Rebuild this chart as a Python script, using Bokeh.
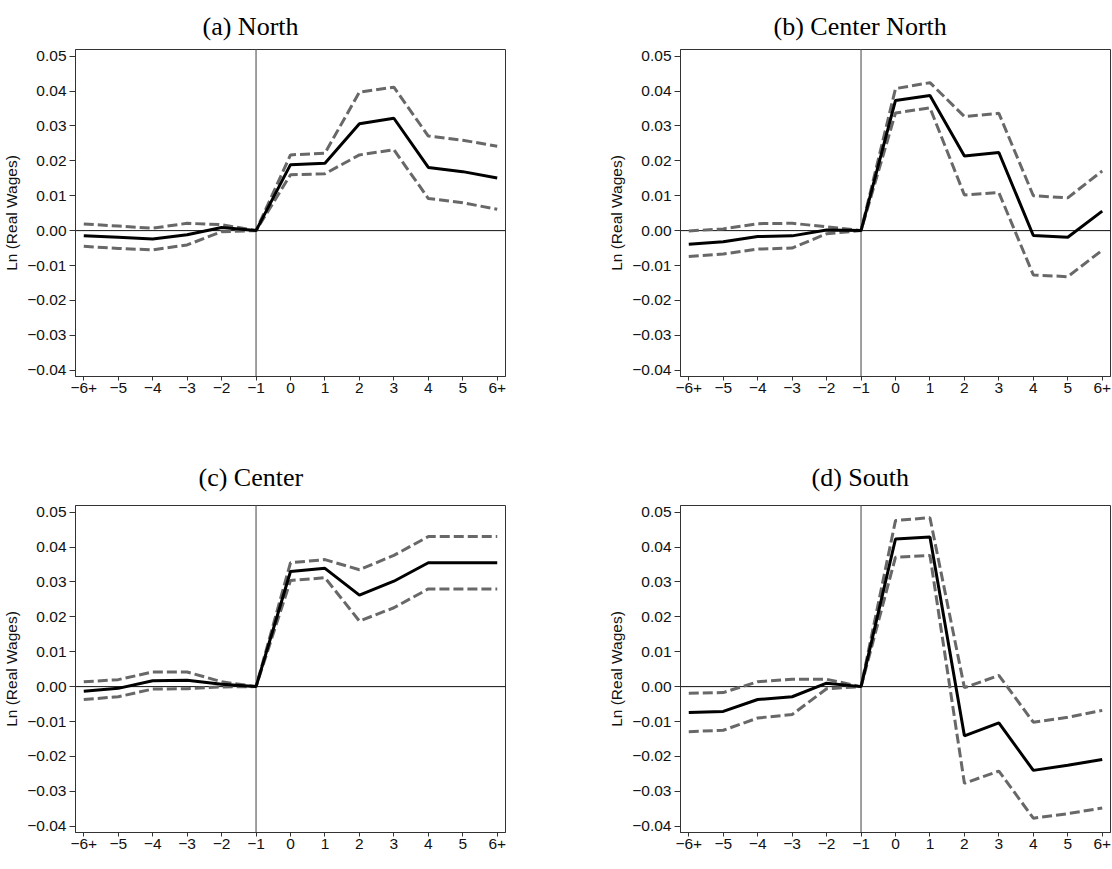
from bokeh.plotting import figure
from bokeh.layouts import column, row
from bokeh.models import Span, Title, FixedTicker, Range1d
from bokeh.embed import file_html
from bokeh.resources import INLINE

# ---------------- data ----------------
periods = [-6, -5, -4, -3, -2, -1, 0, 1, 2, 3, 4, 5, 6]
period_labels = ["\u22126+", "\u22125", "\u22124", "\u22123", "\u22122", "\u22121",
                 "0", "1", "2", "3", "4", "5", "6+"]
y_ticks = [0.05, 0.04, 0.03, 0.02, 0.01, 0.0, -0.01, -0.02, -0.03, -0.04]
y_label = "Ln (Real Wages)"

titles = ["(a) North", "(b) Center North", "(c) Center", "(d) South"]

north_est = [-0.0015, -0.0019, -0.0024, -0.0012, 0.0009, 0.0, 0.0189, 0.0193, 0.0306, 0.0322, 0.0181, 0.0169, 0.0151]
north_hi = [0.0019, 0.0013, 0.0007, 0.0021, 0.0017, 0.0, 0.0217, 0.0222, 0.0397, 0.0411, 0.0271, 0.0259, 0.0242]
north_lo = [-0.0045, -0.0051, -0.0055, -0.0041, -0.0003, 0.0, 0.0160, 0.0163, 0.0217, 0.0232, 0.0092, 0.0080, 0.0061]

cnorth_est = [-0.0039, -0.0032, -0.0017, -0.0015, 0.0002, 0.0, 0.0373, 0.0387, 0.0214, 0.0224, -0.0014, -0.0019, 0.0056]
cnorth_hi = [-0.0001, 0.0005, 0.0020, 0.0021, 0.0011, 0.0, 0.0407, 0.0424, 0.0327, 0.0336, 0.0100, 0.0094, 0.0171]
cnorth_lo = [-0.0074, -0.0067, -0.0053, -0.0050, -0.0009, 0.0, 0.0337, 0.0352, 0.0102, 0.0109, -0.0127, -0.0132, -0.0056]

center_est = [-0.0013, -0.0005, 0.0017, 0.0018, 0.0007, 0.0, 0.0330, 0.0339, 0.0262, 0.0302, 0.0355, 0.0355, 0.0355]
center_hi = [0.0014, 0.0020, 0.0042, 0.0042, 0.0014, 0.0, 0.0355, 0.0364, 0.0335, 0.0376, 0.0430, 0.0430, 0.0430]
center_lo = [-0.0037, -0.0029, -0.0007, -0.0006, -0.0001, 0.0, 0.0304, 0.0312, 0.0188, 0.0226, 0.0280, 0.0280, 0.0280]

south_est = [-0.0074, -0.0071, -0.0037, -0.0029, 0.0010, 0.0, 0.0423, 0.0429, -0.0141, -0.0104, -0.0240, -0.0225, -0.0209]
south_hi = [-0.0019, -0.0017, 0.0014, 0.0021, 0.0021, 0.0, 0.0476, 0.0484, -0.0003, 0.0032, -0.0102, -0.0088, -0.0068]
south_lo = [-0.0129, -0.0125, -0.0090, -0.0080, -0.0006, 0.0, 0.0371, 0.0376, -0.0277, -0.0242, -0.0377, -0.0364, -0.0348]

# ---------------- styling ----------------
SANS = "Liberation Sans"
SERIF = "Liberation Serif"
DASH_COLOR = "#686868"
FRAME_COLOR = "#333333"


def make_panel(title, est, hi, lo, title_offset, title_standoff,
               border_top, border_bottom, border_left, border_right):
    p = figure(frame_width=430, frame_height=327,
               min_border_top=border_top, min_border_bottom=border_bottom,
               min_border_left=border_left, min_border_right=border_right,
               x_range=Range1d(-6.24, 6.24), y_range=Range1d(-0.0418, 0.0519),
               output_backend="svg", toolbar_location=None, tools="")
    p.title.visible = False
    p.background_fill_color = "white"
    p.border_fill_color = "white"
    p.outline_line_color = FRAME_COLOR
    p.outline_line_width = 1
    p.xgrid.visible = False
    p.ygrid.visible = False

    # panel title
    p.add_layout(Title(text=title, text_font=SERIF, text_font_size="26px",
                       text_font_style="normal", text_color="black",
                       align="left", offset=title_offset, standoff=title_standoff,
                       vertical_align="bottom"), "above")

    # reference lines
    p.add_layout(Span(location=0, dimension="width", line_color="#111111",
                      line_width=1, level="underlay"))
    p.add_layout(Span(location=-1, dimension="height", line_color="#808080",
                      line_width=1.5, level="underlay"))

    p.line(periods, hi, line_color=DASH_COLOR, line_width=3, line_dash="10 4")
    p.line(periods, lo, line_color=DASH_COLOR, line_width=3, line_dash="10 4")
    p.line(periods, est, line_color="black", line_width=3)

    # x axis
    p.xaxis.ticker = FixedTicker(ticks=periods)
    p.xaxis.major_label_overrides = {k: v for k, v in zip(periods, period_labels)}
    p.xaxis.minor_tick_line_color = None
    p.xaxis.major_tick_out = 4
    p.xaxis.major_tick_in = 0
    p.xaxis.major_label_standoff = 2
    p.xaxis.major_label_text_font = SANS
    p.xaxis.major_label_text_font_size = "15.5px"
    p.xaxis.major_label_text_color = "#111111"
    p.xaxis.axis_line_color = FRAME_COLOR
    p.xaxis.major_tick_line_color = FRAME_COLOR

    # y axis
    p.yaxis.ticker = FixedTicker(ticks=y_ticks)
    p.yaxis.major_label_overrides = {t: f"{t:.2f}".replace("-", "\u2212") for t in y_ticks}
    p.yaxis.minor_tick_line_color = None
    p.yaxis.major_tick_out = 6
    p.yaxis.major_tick_in = 0
    p.yaxis.major_label_standoff = 3
    p.yaxis.major_label_text_font = SANS
    p.yaxis.major_label_text_font_size = "15.5px"
    p.yaxis.major_label_text_color = "#111111"
    p.yaxis.axis_line_color = FRAME_COLOR
    p.yaxis.major_tick_line_color = FRAME_COLOR
    p.yaxis.axis_label = y_label
    p.yaxis.axis_label_text_font = SANS
    p.yaxis.axis_label_text_font_size = "15.5px"
    p.yaxis.axis_label_text_font_style = "normal"
    p.yaxis.axis_label_text_color = "#111111"
    p.yaxis.axis_label_standoff = 4
    return p


pa = make_panel(titles[0], north_est, north_hi, north_lo, 127, 17, 49, 69, 70, 100)
pb = make_panel(titles[1], cnorth_est, cnorth_hi, cnorth_lo, 93, 17, 49, 69, 70, 2)
pc = make_panel(titles[2], center_est, center_hi, center_lo, 123, 28, 60, 21, 70, 100)
pd = make_panel(titles[3], south_est, south_hi, south_lo, 131, 28, 60, 21, 70, 2)

layout = column(row(pa, pb), row(pc, pd))

open("out.html", "w").write(file_html(layout, INLINE))
